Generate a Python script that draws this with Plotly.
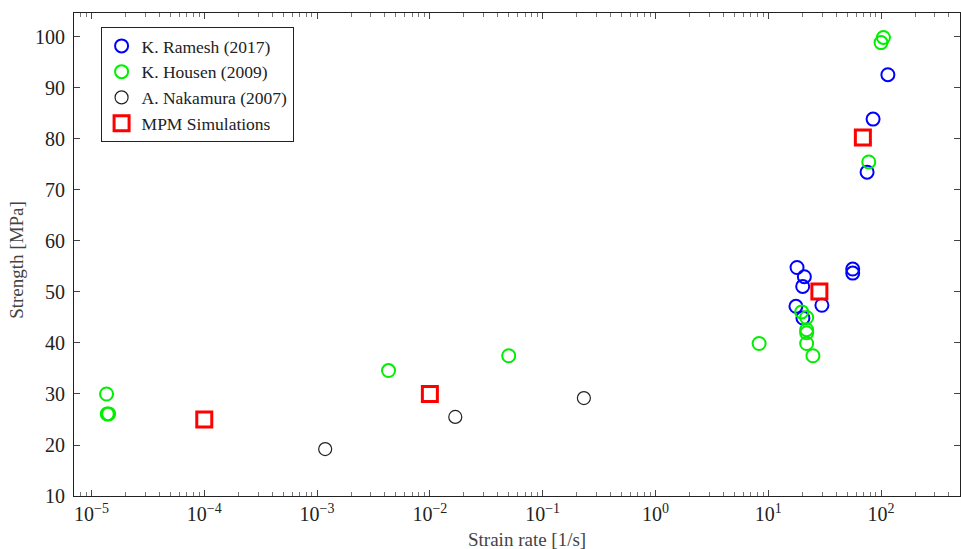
import plotly.graph_objects as go

ramesh_x = [18.0, 20.9, 20.2, 17.6, 20.3, 29.9, 56.1, 56.1, 75.2, 85.0, 115.0]
ramesh_y = [54.8, 53.0, 51.1, 47.2, 44.9, 47.4, 54.5, 53.7, 73.5, 83.9, 92.6]

housen_x = [1.36e-5, 1.38e-5, 1.42e-5, 4.3e-3, 0.05, 8.3, 19.8, 21.9, 21.9, 21.9, 21.9, 24.9, 77.8, 100.0, 105.0]
housen_y = [30.0, 26.1, 26.1, 34.6, 37.5, 39.9, 46.1, 45.0, 42.6, 42.0, 39.9, 37.5, 75.5, 98.9, 99.9]

nakamura_x = [1.18e-3, 0.0168, 0.232]
nakamura_y = [19.2, 25.5, 29.2]

mpm_x = [1e-4, 1e-2, 28.4, 69.0]
mpm_y = [25.0, 30.0, 50.1, 80.3]

x_exponents = [-5, -4, -3, -2, -1, 0, 1, 2]
y_ticks = [10, 20, 30, 40, 50, 60, 70, 80, 90, 100]

x_tickvals = [10.0 ** e for e in x_exponents]
x_ticktext = ["10<sup>%s</sup>" % (str(e).replace("-", "\u2212")) for e in x_exponents]
x_minor = [m * 10.0 ** e for e in range(-6, 3) for m in range(2, 10)]

FONT = "Liberation Serif"

fig = go.Figure()
fig.add_trace(go.Scatter(x=ramesh_x, y=ramesh_y, mode="markers", name="K. Ramesh (2017)",
                         marker=dict(symbol="circle-open", size=13, color="#0000ff", line=dict(width=2, color="#0000ff"))))
fig.add_trace(go.Scatter(x=housen_x, y=housen_y, mode="markers", name="K. Housen (2009)",
                         marker=dict(symbol="circle-open", size=13, color="#00ee00", line=dict(width=2, color="#00ee00"))))
fig.add_trace(go.Scatter(x=nakamura_x, y=nakamura_y, mode="markers", name="A. Nakamura (2007)",
                         marker=dict(symbol="circle-open", size=13, color="#222222", line=dict(width=1.2, color="#222222"))))
fig.add_trace(go.Scatter(x=mpm_x, y=mpm_y, mode="markers", name="MPM Simulations",
                         marker=dict(symbol="square-open", size=15, color="#ff0000", line=dict(width=3, color="#ff0000"))))

fig.update_layout(
    width=961, height=549,
    margin=dict(l=74, r=1, t=13, b=53),
    paper_bgcolor="white", plot_bgcolor="white",
    font=dict(family=FONT, size=18, color="#222222"),
    showlegend=True,
    legend=dict(x=0.03, y=0.971, xanchor="left", yanchor="top",
                bgcolor="white", bordercolor="#222222", borderwidth=1,
                font=dict(family=FONT, size=17.5, color="#222222"),
                tracegroupgap=0, itemwidth=30),
    xaxis=dict(
        type="log", range=[-5.155, 2.7], automargin=False,
        tickmode="array", tickvals=x_tickvals, ticktext=x_ticktext,
        ticks="inside", ticklen=6, tickcolor="#444444",
        minor=dict(tickmode="array", tickvals=x_minor, ticks="inside", ticklen=4,
                   tickcolor="#777777", showgrid=False),
        showgrid=False, zeroline=False,
        showline=True, linecolor="#222222", linewidth=1.2, mirror="ticks",
        tickfont=dict(family=FONT, size=20, color="#222222"),
    ),
    yaxis=dict(
        range=[10, 104.7], automargin=False,
        tickmode="array", tickvals=y_ticks,
        ticks="inside", ticklen=6, tickcolor="#444444", ticklabelstandoff=4,
        showgrid=False, zeroline=False,
        showline=True, linecolor="#222222", linewidth=1.2, mirror="ticks",
        tickfont=dict(family=FONT, size=20, color="#222222"),
    ),
    annotations=[
        dict(text="Strain rate [1/s]", xref="paper", yref="paper", x=0.511, y=0,
             xanchor="center", yanchor="middle", yshift=-43, showarrow=False,
             font=dict(family=FONT, size=19, color="#444444")),
        dict(text="Strength [MPa]", xref="paper", yref="paper", x=0, y=0.489,
             xanchor="center", yanchor="middle", xshift=-57, textangle=-90, showarrow=False,
             font=dict(family=FONT, size=19, color="#444444")),
    ],
)

fig.write_html("out.html", config={"displayModeBar": False},
               post_script="document.body.style.margin='0';")
